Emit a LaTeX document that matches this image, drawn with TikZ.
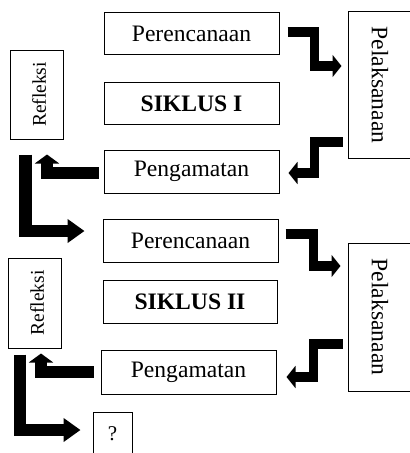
\documentclass[tikz,border=0pt]{standalone}
\usepackage{fontspec}
\setmainfont{Liberation Serif}
\usetikzlibrary{arrows.meta,calc}
\begin{document}
\begin{tikzpicture}[x=1pt,y=-1pt,
  box/.style={draw,line width=1pt,rectangle,inner sep=0pt,font=\fontsize{23.6}{28}\selectfont},
  wbox/.style={box,minimum width=175pt,minimum height=42pt},
  pelak/.style={box,minimum width=67pt,minimum height=147pt},
  thinarr/.style={line width=9.5pt,-{Triangle[length=9pt,width=22pt]}},
  midarr/.style={line width=12.5pt,-{Triangle[length=9pt,width=24pt]}},
  longarr/.style={line width=12.5pt,-{Triangle[length=17pt,width=23pt]}}
]
\useasboundingbox (0,0) rectangle (410,453);
% cycle I
\node[wbox] (P1) at (191.5,33.5) {Perencanaan};
\node[wbox] (S1) at (191.5,103.5) {\textbf{SIKLUS I}};
\node[wbox,minimum height=43pt] (G1) at (191.5,171.5) {Pengamatan};
\node[box,minimum width=53pt,minimum height=89pt] (R1) at (36.5,94.5) {};
\node[font=\fontsize{19.5}{24}\selectfont,rotate=90] (R1t) at ($(R1.center)+(2.5,0)$) {Refleksi};
\node[pelak] (L1) at (381.5,85) {};
\node[font=\fontsize{23.6}{28}\selectfont,rotate=-90] (L1t) at (380,85) {Pelaksanaan};
% cycle II
\node[wbox,minimum height=43pt] (P2) at (190.5,240.5) {Perencanaan};
\node[wbox,minimum width=174pt,minimum height=43pt] (S2) at (190,301.5) {\textbf{SIKLUS II}};
\node[wbox,minimum height=44pt] (G2) at (188.5,372) {Pengamatan};
\node[box,minimum width=53pt,minimum height=90pt] (R2) at (34.5,303) {};
\node[font=\fontsize{19.5}{24}\selectfont,rotate=90] (R2t) at ($(R2.center)+(2.5,0)$) {Refleksi};
\node[box,minimum width=67pt,minimum height=148pt] (L2) at (381.5,317) {};
\node[font=\fontsize{23.6}{28}\selectfont,rotate=-90] (L2t) at (380,317) {Pelaksanaan};
\node[box,minimum width=39pt,minimum height=44pt,font=\fontsize{21}{24}\selectfont] (Q) at (112.5,434) {?};
% arrows cycle I
\draw[thinarr] ($(P1.east)+(8,-1.5)$) -- ++(27,0) |- ($(L1.west)+(-6,-19)$);
\draw[thinarr] ($(L1.west)+(-5,57)$) -- ++(-28,0) |- ($(G1.east)+(9,1.5)$);
\draw[midarr] ($(G1.west)+(-5,1.5)$) -| ($(R1.south)+(10.5,15)$);
\draw[longarr] ($(R1.south)+(-11,15)$) |- ($(P2.west)+(-18,-9.5)$);
% arrows cycle II
\draw[thinarr] ($(P2.east)+(7,-6.5)$) -- ++(28,0) |- ($(L2.west)+(-7,-51)$);
\draw[thinarr] ($(L2.west)+(-5,27)$) -- ++(-29,0) |- ($(G2.east)+(10,5)$);
\draw[midarr] ($(G2.west)+(-7,0)$) -| ($(R2.south)+(6.5,5)$);
\draw[longarr] ($(R2.south)+(-14.5,6)$) |- ($(Q.west)+(-12,-4)$);
\end{tikzpicture}
\end{document}
